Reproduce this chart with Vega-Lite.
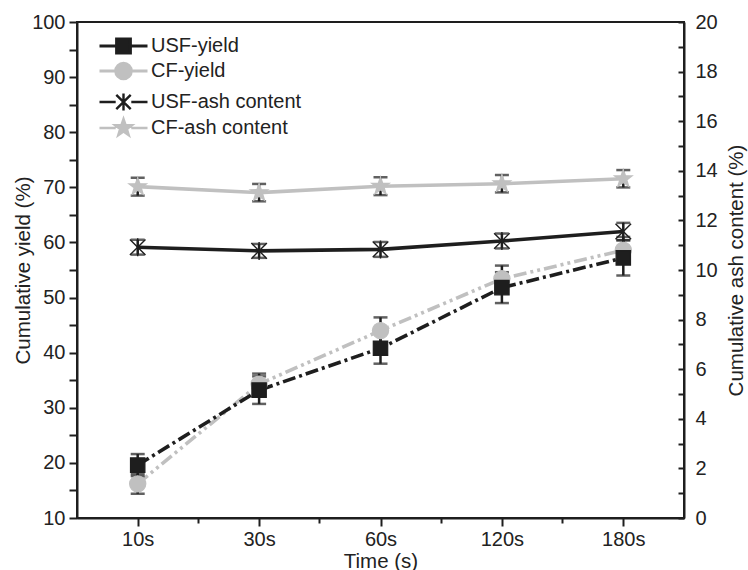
{
  "$schema": "https://vega.github.io/schema/vega-lite/v6.json",
  "width": 607,
  "height": 496,
  "autosize": "none",
  "padding": {"left": 77, "top": 22, "right": 64, "bottom": 52},
  "background": "white",
  "datasets": {
    "yield": [
      {"t": "10s", "series": "CF-yield", "v": 16.2, "err": 1.8},
      {"t": "30s", "series": "CF-yield", "v": 34.3, "err": 1.9},
      {"t": "60s", "series": "CF-yield", "v": 44.0, "err": 2.4},
      {"t": "120s", "series": "CF-yield", "v": 53.4, "err": 2.4},
      {"t": "180s", "series": "CF-yield", "v": 58.6, "err": 2.4},
      {"t": "10s", "series": "USF-yield", "v": 19.6, "err": 2.0},
      {"t": "30s", "series": "USF-yield", "v": 33.2, "err": 2.5},
      {"t": "60s", "series": "USF-yield", "v": 40.8, "err": 2.8},
      {"t": "120s", "series": "USF-yield", "v": 51.8, "err": 2.8},
      {"t": "180s", "series": "USF-yield", "v": 57.2, "err": 3.2}
    ],
    "ash": [
      {"t": "10s", "series": "CF-ash content", "v": 13.36, "err": 0.36},
      {"t": "30s", "series": "CF-ash content", "v": 13.12, "err": 0.35},
      {"t": "60s", "series": "CF-ash content", "v": 13.38, "err": 0.36},
      {"t": "120s", "series": "CF-ash content", "v": 13.48, "err": 0.35},
      {"t": "180s", "series": "CF-ash content", "v": 13.68, "err": 0.35},
      {"t": "10s", "series": "USF-ash content", "v": 10.92, "err": 0.3},
      {"t": "30s", "series": "USF-ash content", "v": 10.77, "err": 0.28},
      {"t": "60s", "series": "USF-ash content", "v": 10.83, "err": 0.3},
      {"t": "120s", "series": "USF-ash content", "v": 11.17, "err": 0.3},
      {"t": "180s", "series": "USF-ash content", "v": 11.55, "err": 0.35}
    ]
  },
  "config": {
    "font": "Liberation Sans",
    "view": {"stroke": "#1e1e1e", "strokeWidth": 2},
    "axis": {
      "domainColor": "#1e1e1e", "domainWidth": 2,
      "tickColor": "#1e1e1e", "tickWidth": 2,
      "labelFont": "Liberation Sans", "labelFontSize": 20, "labelColor": "#222222",
      "titleFont": "Liberation Sans", "titleFontSize": 20.5, "titleFontWeight": "normal", "titleColor": "#222222",
      "grid": false
    },
    "legend": {"labelFont": "Liberation Sans", "labelFontSize": 20, "labelColor": "#222222", "symbolStrokeWidth": 3}
  },
  "layer": [
    {
      "data": {"name": "yield"},
      "mark": {"type": "line", "strokeWidth": 3.6},
      "encoding": {
        "x": {"field": "t", "type": "ordinal", "sort": ["10s", "30s", "60s", "120s", "180s"],
              "scale": {"type": "point", "padding": 0.5},
              "axis": {"title": "Time (s)", "labelAngle": 0, "tickSize": 8, "labelPadding": 3, "titlePadding": 2}},
        "y": {"field": "v", "type": "quantitative",
              "scale": {"domain": [10, 100], "nice": false, "zero": false},
              "axis": {"title": "Cumulative yield (%)", "values": [10, 15, 20, 25, 30, 35, 40, 45, 50, 55, 60, 65, 70, 75, 80, 85, 90, 95, 100],
                       "labelExpr": "datum.value % 10 === 0 ? datum.label : ''", "tickSize": 8, "labelPadding": 4, "titlePadding": -2}},
        "color": {"field": "series", "type": "nominal", "scale": {"domain": ["USF-yield", "CF-yield"], "range": ["#1e1e1e", "#c0c0c0"]}, "legend": null},
        "strokeDash": {"field": "series", "type": "nominal", "scale": {"domain": ["USF-yield", "CF-yield"], "range": [[13, 4, 3, 4], [13, 4, 3, 4, 3, 4]]}, "legend": null}
      }
    },
    {
      "data": {"name": "yield"},
      "mark": {"type": "errorbar", "ticks": true, "size": 14, "thickness": 2.5, "color": "#1e1e1e"},
      "encoding": {
        "x": {"field": "t", "type": "ordinal", "sort": ["10s", "30s", "60s", "120s", "180s"], "scale": {"type": "point", "padding": 0.5}, "axis": null},
        "y": {"field": "v", "type": "quantitative", "scale": {"domain": [10, 100], "nice": false, "zero": false}, "axis": null},
        "yError": {"field": "err"},
        "detail": {"field": "series"}
      }
    },
    {
      "data": {"name": "yield"},
      "mark": {"type": "point", "filled": true, "size": 144, "strokeWidth": 1.2, "opacity": 1},
      "encoding": {
        "x": {"field": "t", "type": "ordinal", "sort": ["10s", "30s", "60s", "120s", "180s"], "scale": {"type": "point", "padding": 0.5}, "axis": null},
        "y": {"field": "v", "type": "quantitative", "scale": {"domain": [10, 100], "nice": false, "zero": false}, "axis": null},
        "shape": {"field": "series", "type": "nominal",
                  "scale": {"domain": ["USF-yield", "CF-yield"], "range": ["M-1.2,-1.2H1.2V1.2H-1.2Z", "M1.35,0A1.35,1.35 0 1,1 -1.35,0A1.35,1.35 0 1,1 1.35,0Z"]}, "legend": null},
        "fill": {"field": "series", "type": "nominal", "scale": {"domain": ["USF-yield", "CF-yield"], "range": ["#1e1e1e", "#c0c0c0"]}, "legend": null},
        "stroke": {"field": "series", "type": "nominal", "scale": {"domain": ["USF-yield", "CF-yield"], "range": ["#1e1e1e", "#c0c0c0"]}, "legend": null}
      }
    },
    {
      "data": {"name": "ash"},
      "mark": {"type": "line", "strokeWidth": 3.6},
      "encoding": {
        "x": {"field": "t", "type": "ordinal", "sort": ["10s", "30s", "60s", "120s", "180s"], "scale": {"type": "point", "padding": 0.5}, "axis": null},
        "y": {"field": "v", "type": "quantitative",
              "scale": {"domain": [0, 20], "nice": false, "zero": false},
              "axis": {"orient": "right", "title": "Cumulative ash content (%)", "values": [0, 1, 2, 3, 4, 5, 6, 7, 8, 9, 10, 11, 12, 13, 14, 15, 16, 17, 18, 19, 20],
                       "labelExpr": "datum.value % 2 === 0 ? datum.label : ''", "tickSize": -6, "labelPadding": 17, "titlePadding": 9, "titleAngle": 270, "titleBaseline": "top"}},
        "color": {"field": "series", "type": "nominal", "scale": {"domain": ["USF-ash content", "CF-ash content"], "range": ["#1e1e1e", "#c0c0c0"]}, "legend": null}
      }
    },
    {
      "data": {"name": "ash"},
      "mark": {"type": "errorbar", "ticks": true, "size": 14, "thickness": 2.5, "color": "#1e1e1e"},
      "encoding": {
        "x": {"field": "t", "type": "ordinal", "sort": ["10s", "30s", "60s", "120s", "180s"], "scale": {"type": "point", "padding": 0.5}, "axis": null},
        "y": {"field": "v", "type": "quantitative", "scale": {"domain": [0, 20], "nice": false, "zero": false}, "axis": null},
        "yError": {"field": "err"},
        "detail": {"field": "series"}
      }
    },
    {
      "data": {"name": "ash"},
      "mark": {"type": "point", "filled": true, "size": 144, "strokeWidth": 1.4, "opacity": 1},
      "encoding": {
        "x": {"field": "t", "type": "ordinal", "sort": ["10s", "30s", "60s", "120s", "180s"], "scale": {"type": "point", "padding": 0.5}, "axis": null},
        "y": {"field": "v", "type": "quantitative", "scale": {"domain": [0, 20], "nice": false, "zero": false}, "axis": null},
        "shape": {"field": "series", "type": "nominal",
                  "scale": {"domain": ["USF-ash content", "CF-ash content"], "range": ["M-1.3,-1.3L1.3,1.3M-1.3,1.3L1.3,-1.3M0,-1.5V1.5", "M0,-1.5L0.352,-0.486L1.426,-0.464L0.57,0.186L0.882,1.214L0,0.6L-0.882,1.214L-0.57,0.186L-1.426,-0.464L-0.352,-0.486Z"]}, "legend": null},
        "fill": {"field": "series", "type": "nominal", "scale": {"domain": ["USF-ash content", "CF-ash content"], "range": ["#1e1e1e", "#c0c0c0"]}, "legend": null},
        "stroke": {"field": "series", "type": "nominal", "scale": {"domain": ["USF-ash content", "CF-ash content"], "range": ["#1e1e1e", "#c0c0c0"]}, "legend": null}
      }
    },
    {
      "data": {"name": "yield"},
      "transform": [{"filter": "false"}],
      "mark": {"type": "point", "filled": true, "size": 144, "strokeWidth": 3, "opacity": 1},
      "encoding": {
        "shape": {"field": "series", "type": "nominal",
                  "scale": {"domain": ["USF-yield", "CF-yield"], "range": ["M-4,0H-1.15M1.15,0H4M-1.15,-1.15H1.15V1.15H-1.15Z", "M-4,0H-1.3M1.3,0H4M1.3,0A1.3,1.3 0 1,1 -1.3,0A1.3,1.3 0 1,1 1.3,0Z"]},
                  "legend": {"orient": "none", "legendX": 36.5, "legendY": 14, "title": null, "symbolSize": 144, "symbolStrokeWidth": 3, "labelOffset": 17.5, "rowPadding": -2}},
        "fill": {"field": "series", "type": "nominal", "scale": {"domain": ["USF-yield", "CF-yield"], "range": ["#1e1e1e", "#c0c0c0"]}, "legend": null},
        "stroke": {"field": "series", "type": "nominal", "scale": {"domain": ["USF-yield", "CF-yield"], "range": ["#1e1e1e", "#c0c0c0"]}, "legend": null}
      }
    },
    {
      "data": {"name": "ash"},
      "transform": [{"filter": "false"}],
      "mark": {"type": "point", "filled": true, "size": 144, "strokeWidth": 3, "opacity": 1},
      "encoding": {
        "shape": {"field": "series", "type": "nominal",
                  "scale": {"domain": ["USF-ash content", "CF-ash content"], "range": ["M-4,0H-1.3M1.3,0H4M-1.2,-1.2L1.2,1.2M-1.2,1.2L1.2,-1.2M0,-1.4V1.4", "M-4,0H-1.3M1.3,0H4M0,-1.5L0.352,-0.486L1.426,-0.464L0.57,0.186L0.882,1.214L0,0.6L-0.882,1.214L-0.57,0.186L-1.426,-0.464L-0.352,-0.486Z"]},
                  "legend": {"orient": "none", "legendX": 36.5, "legendY": 70, "title": null, "symbolSize": 144, "symbolStrokeWidth": 2.4, "labelOffset": 17.5, "rowPadding": -2}},
        "fill": {"field": "series", "type": "nominal", "scale": {"domain": ["USF-ash content", "CF-ash content"], "range": ["#1e1e1e", "#c0c0c0"]}, "legend": null},
        "stroke": {"field": "series", "type": "nominal", "scale": {"domain": ["USF-ash content", "CF-ash content"], "range": ["#1e1e1e", "#c0c0c0"]}, "legend": null}
      }
    },
    {
      "data": {"name": "yield"},
      "mark": {"type": "text", "text": ""},
      "encoding": {
        "x": {"field": "t", "type": "ordinal", "sort": ["10s", "30s", "60s", "120s", "180s"],
              "scale": {"type": "band", "paddingInner": 0, "paddingOuter": 0},
              "axis": {"orient": "top", "offset": -501, "zindex": 1, "values": ["30s", "60s", "120s", "180s"], "bandPosition": 0, "labels": false, "domain": false, "title": null, "tickSize": 5}}
      }
    }
  ],
  "resolve": {"scale": {"x": "independent", "y": "independent", "color": "independent", "shape": "independent", "fill": "independent", "stroke": "independent", "strokeDash": "independent"}}
}
